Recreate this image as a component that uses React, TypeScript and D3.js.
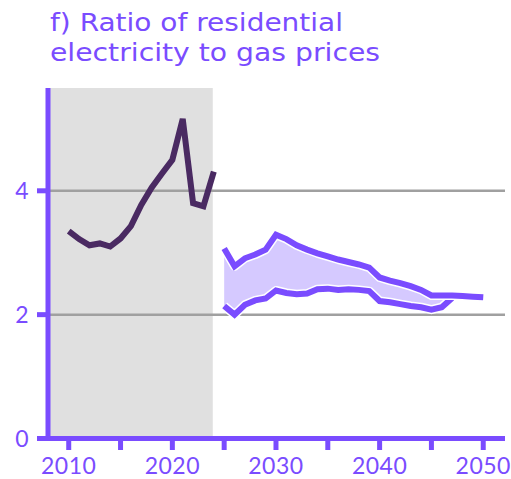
import React, { useRef, useEffect } from "react";
import * as d3 from "d3";

// Historic ratio
const histYears = [2010, 2011, 2012, 2013, 2014, 2015, 2016, 2017, 2018, 2019, 2020, 2021, 2022, 2023, 2024];
const histValues = [3.35, 3.22, 3.12, 3.15, 3.1, 3.23, 3.43, 3.77, 4.05, 4.28, 4.5, 5.16, 3.8, 3.75, 4.31];

// Projection range
const projYears = [2025, 2026, 2027, 2028, 2029, 2030, 2031, 2032, 2033, 2034, 2035, 2036, 2037, 2038, 2039, 2040, 2041, 2042, 2043, 2044, 2045, 2046, 2047, 2048, 2049, 2050];
const projUpper = [3.07, 2.78, 2.91, 2.97, 3.05, 3.29, 3.22, 3.12, 3.05, 2.99, 2.94, 2.89, 2.85, 2.81, 2.76, 2.6, 2.55, 2.51, 2.46, 2.4, 2.31, 2.31, 2.31, 2.3, 2.29, 2.28];
const projLower = [2.14, 2.0, 2.16, 2.23, 2.26, 2.39, 2.35, 2.33, 2.34, 2.41, 2.42, 2.4, 2.41, 2.4, 2.38, 2.22, 2.2, 2.17, 2.14, 2.12, 2.08, 2.12, 2.27];

const yTicks = [0, 2, 4];
const xTicks = [2010, 2015, 2020, 2025, 2030, 2035, 2040, 2045, 2050];
const xLabels = [2010, 2020, 2030, 2040, 2050];
const titleLines = ["f) Ratio of residential", "electricity to gas prices"];
const titleWidths = [293, 330];
const historicEnd = 2023.9;

const purple = "#7a4cff";
const fillColor = "#d5c9ff";
const darkLine = "#4a2a62";
const font = "'Lato', sans-serif";

export default function App() {
  const svgRef = useRef<SVGSVGElement>(null);

  useEffect(() => {
    const svg = d3.select(svgRef.current);
    svg.selectAll("*").remove();

    const x = d3.scaleLinear().domain([2008, 2052.1]).range([48, 505]);
    const y = d3.scaleLinear().domain([0, 5.66]).range([438.5, 88]);

    // title
    titleLines.forEach((t, i) => {
      svg.append("text")
        .attr("x", 50)
        .attr("y", 31 + i * 30)
        .attr("fill", purple)
        .style("font-family", "'DejaVu Sans', sans-serif")
        .style("font-size", "25px")
        .attr("textLength", titleWidths[i])
        .attr("lengthAdjust", "spacingAndGlyphs")
        .text(t);
    });

    // historic shading
    svg.append("rect")
      .attr("x", x(2008))
      .attr("y", y(5.66))
      .attr("width", x(historicEnd) - x(2008))
      .attr("height", y(0) - y(5.66))
      .attr("fill", "#e0e0e0");

    // gridlines
    svg.selectAll(".grid")
      .data(yTicks.filter((d) => d > 0))
      .enter()
      .append("line")
      .attr("x1", x(2008))
      .attr("x2", 505)
      .attr("y1", (d) => y(d))
      .attr("y2", (d) => y(d))
      .attr("stroke", "#a0a0a0")
      .attr("stroke-width", 2.5);

    // projection band
    const bandIdx = projLower.map((_, i) => i);
    const area = d3.area<number>()
      .x((i) => x(projYears[i]))
      .y0((i) => y(projLower[i]))
      .y1((i) => y(projUpper[i]));
    svg.append("path").attr("d", area(bandIdx)).attr("fill", fillColor);

    const line = d3.line<[number, number]>().x((d) => x(d[0])).y((d) => y(d[1]));
    const upperPts = projYears.map((yr, i) => [yr, projUpper[i]] as [number, number]);
    const lowerPts = projLower.map((v, i) => [projYears[i], v] as [number, number]);

    [lowerPts, upperPts].forEach((pts) => {
      svg.append("path").attr("d", line(pts)).attr("fill", "none")
        .attr("stroke", "white").attr("stroke-width", 9).attr("stroke-linejoin", "round");
      svg.append("path").attr("d", line(pts)).attr("fill", "none")
        .attr("stroke", purple).attr("stroke-width", 6);
    });

    // historic line
    const histPts = histYears.map((yr, i) => [yr, histValues[i]] as [number, number]);
    svg.append("path").attr("d", line(histPts)).attr("fill", "none")
      .attr("stroke", darkLine).attr("stroke-width", 6);

    // axes
    svg.append("line").attr("x1", 48).attr("x2", 48).attr("y1", y(5.66)).attr("y2", y(0) + 2.5)
      .attr("stroke", purple).attr("stroke-width", 5);
    svg.append("line").attr("x1", 46).attr("x2", 505).attr("y1", y(0)).attr("y2", y(0))
      .attr("stroke", purple).attr("stroke-width", 5);

    svg.selectAll(".ytick")
      .data(yTicks)
      .enter()
      .append("line")
      .attr("x1", 37)
      .attr("x2", 48)
      .attr("y1", (d) => y(d))
      .attr("y2", (d) => y(d))
      .attr("stroke", purple)
      .attr("stroke-width", 5);

    svg.selectAll(".ylabel")
      .data(yTicks)
      .enter()
      .append("text")
      .attr("x", 22)
      .attr("y", (d) => y(d) + 8)
      .attr("text-anchor", "middle")
      .attr("fill", purple)
      .style("font-family", font)
      .style("font-size", "23px")
      .text((d) => d);

    svg.selectAll(".xtick")
      .data(xTicks)
      .enter()
      .append("line")
      .attr("x1", (d) => x(d))
      .attr("x2", (d) => x(d))
      .attr("y1", y(0))
      .attr("y2", 450)
      .attr("stroke", purple)
      .attr("stroke-width", 5);

    svg.selectAll(".xlabel")
      .data(xLabels)
      .enter()
      .append("text")
      .attr("x", (d) => x(d))
      .attr("y", 474)
      .attr("text-anchor", "middle")
      .attr("fill", purple)
      .style("font-family", font)
      .style("font-size", "23px")
      .style("letter-spacing", "0.5px")
      .text((d) => d);
  }, []);

  return (
    <svg ref={svgRef} width={511} height={479} style={{ position: "absolute", left: 0, top: 0 }} />
  );
}
